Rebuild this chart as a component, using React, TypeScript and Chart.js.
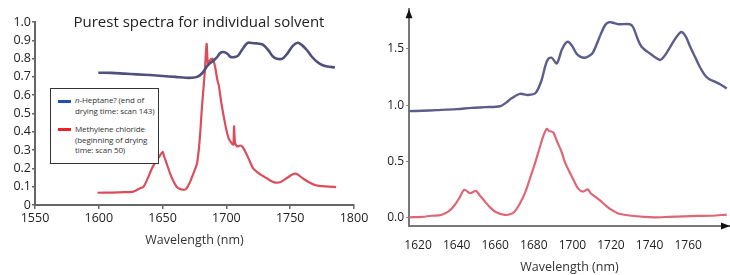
import React, { useEffect, useRef } from "react";
import { Chart, registerables } from "chart.js";
Chart.register(...registerables);

// ---------- Data ----------
const leftTitle = "Purest spectra for individual solvent";
const axisTitle = "Wavelength (nm)";
const heptaneLabel = ["n-Heptane? (end of", "drying time: scan 143)"];
const methyleneLabel = ["Methylene chloride", "(beginning of drying", "time: scan 50)"];

const leftXTicks = [1550, 1600, 1650, 1700, 1750, 1800];
const leftYTicks = [0, 0.1, 0.2, 0.3, 0.4, 0.5, 0.6, 0.7, 0.8, 0.9, 1.0];
const rightXTicks = [1620, 1640, 1660, 1680, 1700, 1720, 1740, 1760];
const rightYTicks = [0, 0.5, 1.0, 1.5];

const leftHeptaneNm = [1599.6, 1610, 1620, 1630, 1640, 1650, 1660, 1668, 1673, 1677, 1681, 1685, 1688, 1690, 1693, 1695, 1698, 1701, 1703, 1706, 1709, 1712, 1715, 1717, 1720, 1724, 1727, 1729, 1733, 1736, 1739, 1744, 1748, 1752, 1756, 1759, 1763, 1767, 1771, 1775, 1779, 1785];
const leftHeptane = [0.723, 0.722, 0.718, 0.714, 0.71, 0.705, 0.7, 0.695, 0.695, 0.7, 0.72, 0.76, 0.78, 0.79, 0.81, 0.83, 0.836, 0.825, 0.81, 0.808, 0.815, 0.845, 0.875, 0.887, 0.885, 0.883, 0.88, 0.874, 0.845, 0.815, 0.8, 0.8, 0.83, 0.87, 0.887, 0.875, 0.847, 0.81, 0.783, 0.765, 0.757, 0.752];

const leftMethyleneNm = [1599, 1610, 1620, 1627, 1632, 1635, 1638, 1641, 1644, 1647, 1650, 1651, 1653, 1656, 1658, 1661, 1664, 1668, 1671, 1674, 1677, 1679, 1681, 1683, 1684.5, 1685.5, 1687, 1689, 1691, 1693, 1694, 1696, 1698, 1700, 1702, 1704.5, 1705.5, 1706, 1706.8, 1708.6, 1711, 1713, 1717, 1721, 1726, 1731.6, 1737, 1742, 1748, 1752, 1755, 1760, 1765.5, 1770, 1775, 1780, 1786];
const leftMethylene = [0.067, 0.068, 0.07, 0.073, 0.09, 0.1, 0.14, 0.19, 0.23, 0.26, 0.29, 0.27, 0.23, 0.17, 0.137, 0.1, 0.087, 0.085, 0.118, 0.17, 0.228, 0.35, 0.55, 0.72, 0.88, 0.77, 0.79, 0.8, 0.76, 0.68, 0.655, 0.56, 0.48, 0.41, 0.36, 0.335, 0.33, 0.43, 0.34, 0.32, 0.325, 0.315, 0.26, 0.2, 0.17, 0.146, 0.125, 0.124, 0.15, 0.168, 0.17, 0.145, 0.122, 0.108, 0.103, 0.1, 0.098];

const rightHeptaneNm = [1615.5, 1622, 1629.7, 1640, 1647.8, 1655, 1662.5, 1665.5, 1668.5, 1672.8, 1677, 1681, 1684, 1686, 1687.5, 1689.3, 1691.9, 1694.5, 1696.5, 1698, 1700, 1702, 1704, 1706.5, 1709, 1710.8, 1714, 1717, 1719, 1721, 1723.8, 1729.8, 1731.5, 1734, 1735.9, 1740, 1745.4, 1747.5, 1749.7, 1753, 1755.7, 1757, 1759, 1761, 1763.5, 1766, 1768.7, 1771, 1774, 1777, 1780];
const rightHeptane = [0.947, 0.95, 0.956, 0.965, 0.976, 0.982, 0.99, 1.02, 1.06, 1.1, 1.09, 1.11, 1.22, 1.35, 1.41, 1.42, 1.37, 1.49, 1.55, 1.56, 1.52, 1.46, 1.43, 1.42, 1.44, 1.47, 1.6, 1.71, 1.735, 1.73, 1.717, 1.717, 1.69, 1.58, 1.516, 1.46, 1.4, 1.43, 1.487, 1.58, 1.64, 1.645, 1.6, 1.52, 1.43, 1.34, 1.265, 1.23, 1.206, 1.18, 1.148];

const rightMethyleneNm = [1615.5, 1622, 1627, 1632, 1636, 1639, 1641.5, 1644, 1647, 1650, 1652, 1654.7, 1657, 1660, 1665, 1668, 1670, 1672.5, 1675.4, 1678, 1680.6, 1683, 1685, 1686.7, 1688, 1690, 1692, 1694.4, 1696, 1698, 1700.5, 1703, 1705.6, 1708, 1709.5, 1711.7, 1714, 1717, 1720, 1723.8, 1730.7, 1737, 1742.8, 1750, 1758, 1765, 1772, 1780];
const rightMethylene = [0.006, 0.01, 0.02, 0.027, 0.06, 0.115, 0.18, 0.25, 0.22, 0.24, 0.2, 0.145, 0.1, 0.056, 0.027, 0.035, 0.056, 0.12, 0.22, 0.35, 0.484, 0.62, 0.73, 0.79, 0.77, 0.76, 0.68, 0.587, 0.5, 0.425, 0.34, 0.26, 0.233, 0.254, 0.22, 0.19, 0.16, 0.115, 0.075, 0.04, 0.02, 0.01, 0.006, 0.01, 0.015, 0.018, 0.02, 0.03];

// ---------- Helpers ----------
const FONT = "'Open Sans', 'DejaVu Sans', sans-serif";
const pts = (xs: number[], ys: number[]) => xs.map((x, i) => ({ x, y: ys[i] }));

const arrowPlugin = {
  id: "axisArrows",
  afterDraw(chart: any) {
    const { ctx, chartArea } = chart;
    ctx.save();
    ctx.fillStyle = "#111";
    const x0 = chartArea.left;
    const y0 = chartArea.top;
    ctx.beginPath();
    ctx.moveTo(x0, y0);
    ctx.lineTo(x0 - 3.5, y0 + 9);
    ctx.lineTo(x0 + 3.5, y0 + 9);
    ctx.closePath();
    ctx.fill();
    const x1 = chartArea.right;
    const y1 = chartArea.bottom;
    ctx.beginPath();
    ctx.moveTo(x1, y1);
    ctx.lineTo(x1 - 9, y1 - 3.5);
    ctx.lineTo(x1 - 9, y1 + 3.5);
    ctx.closePath();
    ctx.fill();
    ctx.restore();
  },
};

function LeftChart() {
  const ref = useRef<HTMLCanvasElement>(null);
  useEffect(() => {
    const chart = new Chart(ref.current!, {
      type: "line",
      data: {
        datasets: [
          {
            data: pts(leftHeptaneNm, leftHeptane),
            borderColor: "#4f507c",
            borderWidth: 2.6,
            pointRadius: 0,
            tension: 0.3,
          },
          {
            data: pts(leftMethyleneNm, leftMethylene),
            borderColor: "#dc4d5c",
            borderWidth: 2.2,
            pointRadius: 0,
            tension: 0.25,
          },
        ],
      },
      options: {
        responsive: false,
        animation: false,
        layout: { padding: { top: 22, right: 26, left: 0, bottom: 0 } },
        plugins: { legend: { display: false }, tooltip: { enabled: false } },
        scales: {
          x: {
            type: "linear",
            min: 1550,
            max: 1800,
            afterBuildTicks: (s: any) => {
              s.ticks = leftXTicks.map((v) => ({ value: v }));
            },
            afterFit: (s: any) => {
              s.height = 70;
            },
            grid: { drawOnChartArea: false, tickLength: 4, color: "#666", lineWidth: 1.5 },
            border: { color: "#666", width: 2 },
            ticks: {
              color: "#222",
              font: { family: FONT, size: 12.5 },
              padding: 2,
              maxRotation: 0,
              autoSkip: false,
              callback: (v: any) => String(v),
            },
            title: {
              display: true,
              text: axisTitle,
              color: "#333",
              font: { family: FONT, size: 12.5 },
              padding: { top: 0, bottom: 27 },
            },
          },
          y: {
            min: 0,
            max: 1.0,
            afterBuildTicks: (s: any) => {
              s.ticks = leftYTicks.map((v) => ({ value: v }));
            },
            afterFit: (s: any) => {
              s.width = 35;
            },
            grid: { drawOnChartArea: false, tickLength: 3, color: "#666", lineWidth: 1.5 },
            border: { color: "#666", width: 2 },
            ticks: {
              color: "#222",
              font: { family: FONT, size: 12.5 },
              padding: 1,
              callback: (v: any) => (v === 0 ? "0" : Number(v).toFixed(1)),
            },
          },
        },
      },
    } as any);
    return () => chart.destroy();
  }, []);
  return <canvas ref={ref} width={380} height={275} style={{ position: "absolute", left: 0, top: 0 }} />;
}

function RightChart() {
  const ref = useRef<HTMLCanvasElement>(null);
  useEffect(() => {
    const chart = new Chart(ref.current!, {
      type: "line",
      data: {
        datasets: [
          {
            data: pts(rightHeptaneNm, rightHeptane),
            borderColor: "#5c5d8a",
            borderWidth: 2.4,
            pointRadius: 0,
            tension: 0.3,
          },
          {
            data: pts(rightMethyleneNm, rightMethylene),
            borderColor: "#df6775",
            borderWidth: 2.2,
            pointRadius: 0,
            tension: 0.3,
          },
        ],
      },
      options: {
        responsive: false,
        animation: false,
        layout: { padding: { top: 9, right: 0, left: 0, bottom: 0 } },
        plugins: { legend: { display: false }, tooltip: { enabled: false } },
        scales: {
          x: {
            type: "linear",
            min: 1615.3,
            max: 1781.7,
            afterBuildTicks: (s: any) => {
              s.ticks = rightXTicks.map((v) => ({ value: v }));
            },
            afterFit: (s: any) => {
              s.height = 49;
            },
            grid: { drawOnChartArea: false, drawTicks: false },
            border: { color: "#777", width: 2 },
            ticks: {
              color: "#222",
              font: { family: FONT, size: 12 },
              padding: 12,
              maxRotation: 0,
              autoSkip: false,
              callback: (v: any) => String(v),
            },
            title: {
              display: true,
              text: axisTitle,
              color: "#333",
              font: { family: FONT, size: 12.5 },
              padding: { top: 0, bottom: 0 },
            },
          },
          y: {
            min: -0.071,
            max: 1.85,
            afterBuildTicks: (s: any) => {
              s.ticks = rightYTicks.map((v) => ({ value: v }));
            },
            afterFit: (s: any) => {
              s.width = 44;
            },
            grid: { drawOnChartArea: false, tickLength: 3, color: "#888", lineWidth: 1 },
            border: { color: "#777", width: 2 },
            ticks: {
              color: "#222",
              font: { family: FONT, size: 12 },
              padding: 2,
              callback: (v: any) => Number(v).toFixed(1),
            },
          },
        },
      },
      plugins: [arrowPlugin],
    } as any);
    return () => chart.destroy();
  }, []);
  return <canvas ref={ref} width={365} height={275} style={{ position: "absolute", left: 365, top: 0 }} />;
}

export default function App() {
  const legendText: React.CSSProperties = {
    fontFamily: FONT,
    fontSize: 8,
    lineHeight: "10.5px",
    color: "#333",
    whiteSpace: "nowrap",
    letterSpacing: "-0.1px",
  };
  const sample = (color: string, top: number): React.CSSProperties => ({
    position: "absolute",
    left: 7,
    top,
    width: 13,
    height: 3,
    background: color,
  });
  return (
    <div style={{ position: "fixed", left: 0, top: 0, width: 730, height: 275, background: "#fff", overflow: "hidden" }}>
      <RightChart />
      <LeftChart />
      <div
        style={{
          position: "absolute",
          left: 0,
          top: 11,
          width: 398,
          textAlign: "center",
          fontFamily: FONT,
          fontSize: 15,
          lineHeight: "20px",
          color: "#222",
        }}
      >
        {leftTitle}
      </div>
      <div
        style={{
          position: "absolute",
          left: 50,
          top: 88,
          width: 109,
          height: 76,
          boxSizing: "border-box",
          border: "1px solid #333",
          background: "#fff",
        }}
      >
        <div style={sample("#1f4fb0", 11)} />
        <div style={sample("#e8232c", 39)} />
        <div style={{ position: "absolute", left: 24, top: 6, ...legendText }}>
          <div>
            <i>n</i>
            {heptaneLabel[0].slice(1)}
          </div>
          <div>{heptaneLabel[1]}</div>
        </div>
        <div style={{ position: "absolute", left: 24, top: 35, ...legendText }}>
          {methyleneLabel.map((t) => (
            <div key={t}>{t}</div>
          ))}
        </div>
      </div>
    </div>
  );
}
